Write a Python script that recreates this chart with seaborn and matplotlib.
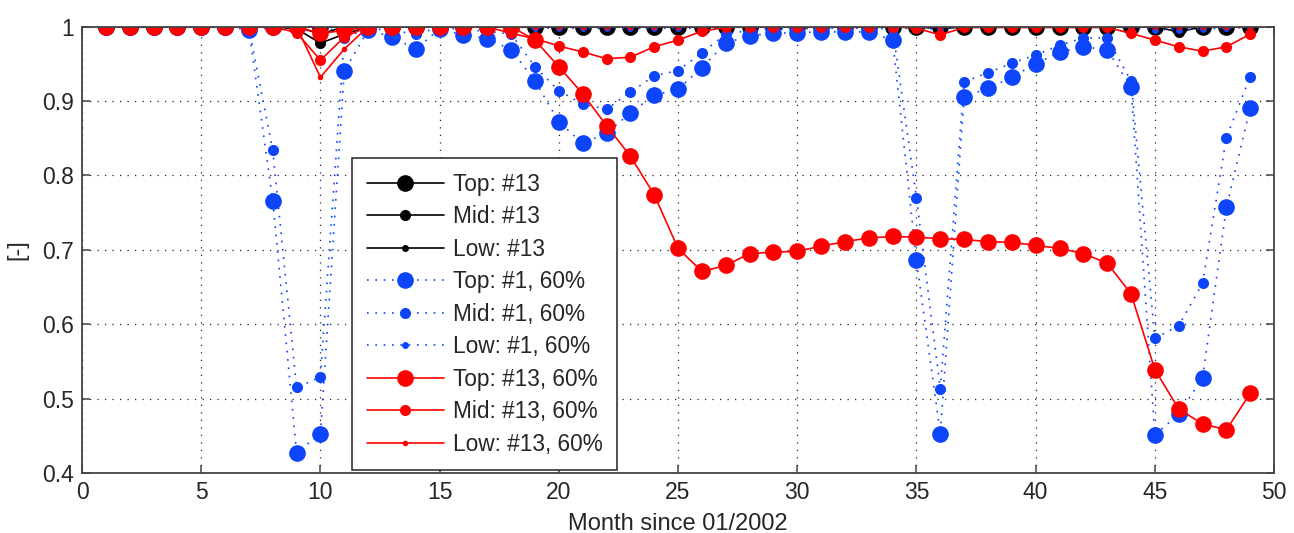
import numpy as np
import pandas as pd
import matplotlib
matplotlib.use("Agg")
import matplotlib.pyplot as plt
import seaborn as sns

months = list(range(1, 50))

# Case #13 (reference)
top_13 = [1.0] * 49
mid_13 = [1.0] * 8 + [0.997, 0.978, 0.990] + [1.0] * 24 + [0.997] + [1.0] * 9 + [0.993, 1.0, 1.0, 1.0]
low_13 = [1.0] * 9 + [0.990] + [1.0] * 39

# Case #1, 60%
top_1_60 = [1.0, 1.0, 1.0, 1.0, 1.0, 1.0, 0.996, 0.766, 0.427, 0.453,
            0.940, 0.996, 0.986, 0.970, 0.997, 0.989, 0.984, 0.969, 0.927, 0.872,
            0.843, 0.857, 0.884, 0.908, 0.916, 0.945, 0.978, 0.988, 0.991, 0.992,
            0.993, 0.993, 0.993, 0.982, 0.686, 0.453, 0.906, 0.917, 0.932, 0.950,
            0.966, 0.973, 0.969, 0.919, 0.451, 0.479, 0.528, 0.757, 0.891]
mid_1_60 = [1.0, 1.0, 1.0, 1.0, 1.0, 1.0, 0.998, 0.834, 0.515, 0.529,
            0.985, 0.998, 0.995, 0.990, 0.999, 0.996, 0.994, 0.990, 0.946, 0.914,
            0.896, 0.889, 0.912, 0.934, 0.941, 0.965, 0.990, 0.995, 0.997, 0.997,
            0.998, 0.998, 0.998, 0.997, 0.770, 0.513, 0.926, 0.938, 0.951, 0.962,
            0.975, 0.985, 0.985, 0.927, 0.581, 0.598, 0.655, 0.851, 0.933]
low_1_60 = [1.0, 1.0, 1.0, 1.0, 1.0, 1.0, 0.999, 0.997, 0.995, 0.995,
            0.998, 1.0, 1.0, 1.0, 1.0, 1.0, 1.0, 1.0, 0.998, 0.998,
            0.998, 0.998, 0.998, 0.998, 0.998, 0.998, 0.998, 1.0, 1.0, 1.0,
            1.0, 1.0, 1.0, 0.999, 0.997, 0.997, 1.0, 1.0, 1.0, 1.0,
            1.0, 1.0, 1.0, 0.998, 0.996, 0.996, 0.997, 0.998, 0.999]

# Case #13, 60%
top_13_60 = [1.0] * 9 + [0.991, 0.995] + [1.0] * 7 + \
            [0.982, 0.946, 0.910, 0.867, 0.826, 0.774, 0.702, 0.671, 0.679, 0.695,
             0.697, 0.698, 0.705, 0.711, 0.716, 0.718, 0.717, 0.715, 0.714, 0.711,
             0.710, 0.706, 0.702, 0.695, 0.682, 0.641, 0.539, 0.486, 0.466, 0.458,
             0.507]
mid_13_60 = [1.0] * 8 + [0.992, 0.955, 0.986] + [1.0] * 6 + \
            [0.991, 0.984, 0.974, 0.966, 0.957, 0.959, 0.973, 0.982, 0.994, 0.999,
             1.0, 1.0, 1.0, 1.0, 1.0, 1.0, 1.0, 0.998, 0.989, 0.999,
             0.999, 0.999, 0.999, 0.999, 0.999, 0.999, 0.991, 0.982, 0.973, 0.967,
             0.973, 0.990]
low_13_60 = [1.0] * 9 + [0.932, 0.970] + [1.0] * 38

xticks = [0, 5, 10, 15, 20, 25, 30, 35, 40, 45, 50]
yticks = [0.4, 0.5, 0.6, 0.7, 0.8, 0.9, 1.0]
ytick_labels = ["0.4", "0.5", "0.6", "0.7", "0.8", "0.9", "1"]

BLUE = "#0d45fb"
RED = "#ff0000"
BLACK = "#000000"
solid = "-"
dotted = (0, (1, 4))

series = [
    ("Top: #13", top_13, BLACK, solid, 12.0),
    ("Mid: #13", mid_13, BLACK, solid, 8.0),
    ("Low: #13", low_13, BLACK, solid, 5.0),
    ("Top: #1, 60%", top_1_60, BLUE, dotted, 12.0),
    ("Mid: #1, 60%", mid_1_60, BLUE, dotted, 8.0),
    ("Low: #1, 60%", low_1_60, BLUE, dotted, 5.0),
    ("Top: #13, 60%", top_13_60, RED, solid, 12.0),
    ("Mid: #13, 60%", mid_13_60, RED, solid, 8.0),
    ("Low: #13, 60%", low_13_60, RED, solid, 4.0),
]

sns.set_style("ticks")
plt.rcParams["font.family"] = ["Liberation Sans", "DejaVu Sans"]

fig = plt.figure(figsize=(12.94, 5.33), dpi=100)
ax = fig.add_axes([0.0634, 0.1126, 0.9212, 0.8373])

for label, vals, color, ls, ms in series:
    df = pd.DataFrame({"month": months, "value": vals})
    sns.lineplot(data=df, x="month", y="value", ax=ax, color=color,
                 linestyle=ls, linewidth=1.2,
                 marker="o", markersize=ms, markeredgecolor=color,
                 markeredgewidth=0, label=label, estimator=None, sort=False)

ax.set_xlim(0, 50)
ax.set_ylim(0.4, 1.0)
ax.set_xticks(xticks)
ax.set_xticklabels([str(t) for t in xticks])
ax.set_yticks(yticks)
ax.set_yticklabels(ytick_labels)
ax.grid(True, color="#222222", linestyle=(0, (1, 5)), linewidth=0.9)
ax.set_axisbelow(True)

for s in ax.spines.values():
    s.set_visible(True)
    s.set_color("#444444")
    s.set_linewidth(1.3)
ax.tick_params(axis="both", which="both", direction="in", length=6, width=1.1,
               color="#444444", labelsize=16.5, top=True, right=True, pad=6)

ax.set_xlabel("Month since 01/2002", fontsize=17, labelpad=6)
ax.set_ylabel("[-]", fontsize=17, labelpad=10)

leg = ax.legend(loc="lower left", bbox_to_anchor=(0.2265, 0.006),
                borderaxespad=0, fontsize=16.3, frameon=True, fancybox=False,
                framealpha=1, edgecolor="#222222", handlelength=3.4,
                handletextpad=0.4, labelspacing=0.42, borderpad=0.65)
leg.get_frame().set_linewidth(1.1)

fig.savefig("out.png", dpi=100)
